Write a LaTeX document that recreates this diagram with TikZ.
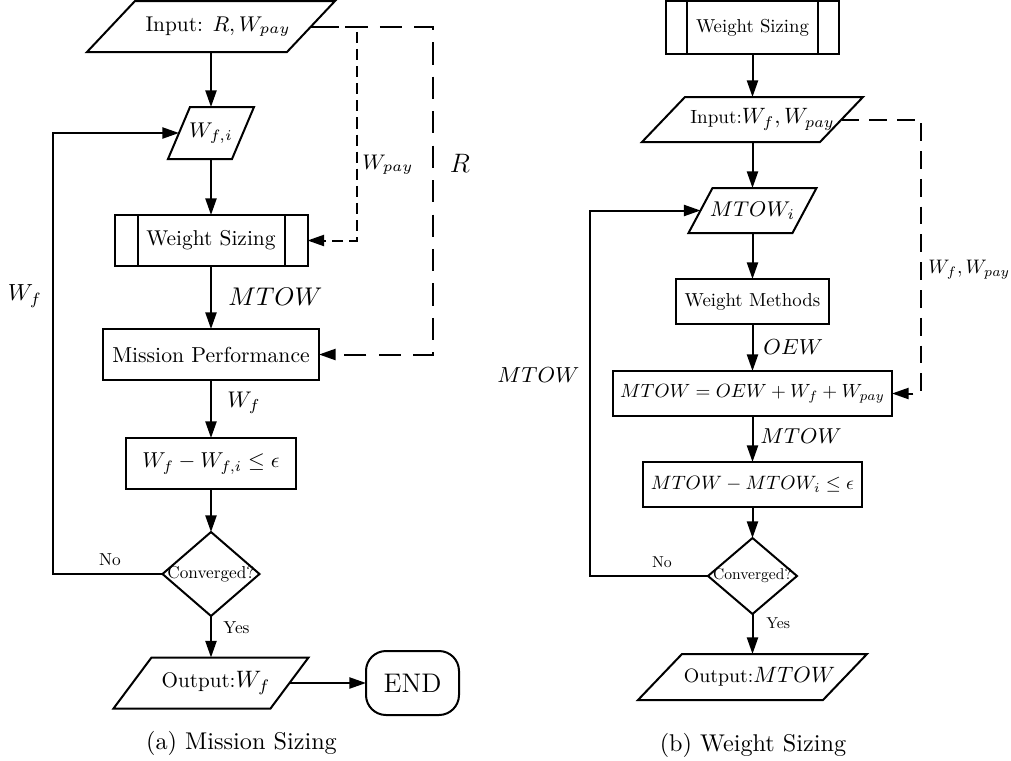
\documentclass[tikz,border=0pt]{standalone}
\usepackage{fix-cm}
\usepackage{graphicx}
\usetikzlibrary{shapes.geometric,arrows.meta}
\newcommand\fsz[1]{\fontsize{#1}{#1}\selectfont}
\newcommand\Sx[2]{\scalebox{#1}{\fsz{10}#2}}
\tikzset{
  lw/.style={line width=0.9pt},
  box/.style={draw, lw, rectangle, inner sep=0pt, outer sep=0pt},
  io/.style={rectangle, inner sep=0pt, outer sep=0pt},
  dec/.style={draw, lw, diamond, inner sep=0pt, outer sep=0pt},
  term/.style={draw, lw, rectangle, rounded corners=9pt, inner sep=0pt, outer sep=0pt},
  arr/.style={lw, -{Triangle[length=7.5pt,width=5pt]}},
  dshA/.style={arr, dash pattern=on 5pt off 2.7pt},
  dshB/.style={arr, dash pattern=on 10pt off 5.5pt},
  dshC/.style={arr, dash pattern=on 8pt off 4.5pt},
  lbl/.style={inner sep=0pt, anchor=west},
  plain/.style={inner sep=0pt}
}
\newcommand\ioframe[2]{\draw[lw] ([xshift=-#2]#1.south west) -- ([xshift=-#2]#1.south east) -- ([xshift=#2]#1.north east) -- ([xshift=#2]#1.north west) -- cycle;}
\newcommand\subproc[2]{\draw[lw] ([xshift=#2]#1.north west) -- ([xshift=#2]#1.south west) ([xshift=-#2]#1.north east) -- ([xshift=-#2]#1.south east);}
\begin{document}
\begin{tikzpicture}[x=0.45pt,y=-0.45pt]
\useasboundingbox[fill=white] (0,0) rectangle (1011,761);
% ---------------- left chart ----------------
\node[io, minimum width=90pt, minimum height=22.95pt] (in1) at (211,26.5) {\hspace*{6.3pt}\fsz{9.6}Input: $R, W_{pay}$};
\ioframe{in1}{10.8pt}
\node[io, minimum width=28.8pt, minimum height=23.4pt] (wfi) at (211,133) {\fsz{9.6}$W_{f,i}$};
\ioframe{wfi}{4.95pt}
\node[box, minimum width=86.85pt, minimum height=22.95pt] (ws1) at (211,240.5) {\Sx{0.965}{Weight Sizing}};
\subproc{ws1}{10.35pt}
\node[box, minimum width=97.2pt, minimum height=22.95pt] (mp) at (211,354.5) {\Sx{0.975}{Mission Performance}};
\node[box, minimum width=76.5pt, minimum height=22.95pt] (chk1) at (211,463.5) {\Sx{0.97}{$W_f - W_{f,i} \leq \epsilon$}};
\node[dec, minimum width=43.65pt, minimum height=37.8pt] (dia1) at (211,574) {\makebox[0pt]{\Sx{0.775}{Converged?}}};
\node[io, minimum width=70.65pt, minimum height=22.95pt] (out1) at (211,683) {\hspace*{4.5pt}\fsz{9.5}Output:\fsz{10.7}$W_f$};
\ioframe{out1}{8.55pt}
\node[term, minimum width=41.85pt, minimum height=28.8pt] (end) at (412.5,683) {\fsz{12.1}END};

\draw[arr] (in1.south) -- (wfi.north);
\draw[arr] (wfi.south) -- (ws1.north);
\draw[arr] (ws1.south) -- (mp.north);
\draw[arr] (mp.south) -- (chk1.north);
\draw[arr] (chk1.south) -- (dia1.north);
\draw[arr] (dia1.south) -- (out1.north);
\draw[arr] (out1.east) -- (end.west);
\coordinate (lc1) at (53,350);
\draw[arr] (dia1.west) -| (lc1) |- (wfi.west);
\coordinate (dc1) at (357,100);
\coordinate (dc2) at (433,100);
\draw[dshA] (in1.east) -| (dc1) |- (ws1.east);
\draw[dshB] (in1.east) -| (dc2) |- (mp.east);

\node[lbl] (lmtow1) at (228,297) {\fsz{11.5}$MTOW$};
\node[lbl] (lwf1) at (227,403) {\fsz{10.2}$W_f$};
\node[lbl] (lwpay1) at (362,165) {\fsz{9.5}$W_{pay}$};
\node[plain] (lr1) at (460,163) {\fsz{12}$R$};
\node[plain] (lwf2) at (25,296) {\fsz{10.5}$W_f$};
\node[lbl] (lyes1) at (223,628) {\Sx{0.78}{Yes}};
\node[plain] (lno1) at (110,560) {\Sx{0.78}{No}};
\node[plain] (capa) at (241.5,743) {\fsz{10.9}(a) Mission Sizing};
% ---------------- right chart ----------------
\node[box, minimum width=77.85pt, minimum height=23.85pt] (ws2) at (752.5,27.5) {\Sx{0.843}{Weight Sizing}};
\subproc{ws2}{9.45pt}
\node[io, minimum width=80.1pt, minimum height=20.25pt] (in2) at (752.5,119.5) {\hspace*{9pt}\Sx{0.86}{Input:}\fsz{10}$W_f, W_{pay}$};
\ioframe{in2}{9.675pt}
\node[io, minimum width=46.8pt, minimum height=20.25pt] (mtowi) at (752.5,210.5) {\fsz{9.6}$MTOW_i$};
\ioframe{mtowi}{5.4pt}
\node[box, minimum width=68.85pt, minimum height=20.25pt] (wm) at (752.5,301.5) {\Sx{0.847}{Weight Methods}};
\node[box, minimum width=125.55pt, minimum height=20.25pt] (eq) at (752.5,393.5) {\Sx{0.86}{$MTOW = OEW + W_f + W_{pay}$}};
\node[box, minimum width=98.55pt, minimum height=20.25pt] (chk2) at (752.5,484.5) {\Sx{0.87}{$MTOW - MTOW_i \leq \epsilon$}};
\node[dec, minimum width=40.05pt, minimum height=34.2pt] (dia2) at (752.5,576) {\makebox[0pt]{\Sx{0.70}{Converged?}}};
\node[io, minimum width=83.25pt, minimum height=20.7pt] (out2) at (752.5,677) {\hspace*{6.3pt}\fsz{8.7}Output:\fsz{10}$MTOW$};
\ioframe{out2}{9.9pt}

\draw[arr] (ws2.south) -- (in2.north);
\draw[arr] (in2.south) -- (mtowi.north);
\draw[arr] (mtowi.south) -- (wm.north);
\draw[arr] (wm.south) -- (eq.north);
\draw[arr] (eq.south) -- (chk2.north);
\draw[arr] (chk2.south) -- (dia2.north);
\draw[arr] (dia2.south) -- (out2.north);
\coordinate (lc2) at (590,400);
\draw[arr] (dia2.west) -| (lc2) |- (mtowi.west);
\coordinate (dc3) at (921,250);
\draw[dshC] (in2.east) -| (dc3) |- (eq.east);

\node[lbl] (loew) at (763,347) {\fsz{9.8}$OEW$};
\node[lbl] (lmtow2) at (760,436) {\fsz{9.7}$MTOW$};
\node[plain] (lmtow3) at (538.5,375) {\fsz{9.8}$MTOW$};
\node[lbl] (lwfwpay) at (928,270) {\Sx{0.88}{$W_f, W_{pay}$}};
\node[plain] (lno2) at (662,562) {\Sx{0.71}{No}};
\node[lbl] (lyes2) at (766,623) {\Sx{0.71}{Yes}};
\node[plain] (capb) at (753,745) {\fsz{10.9}(b) Weight Sizing};
\end{tikzpicture}
\end{document}
